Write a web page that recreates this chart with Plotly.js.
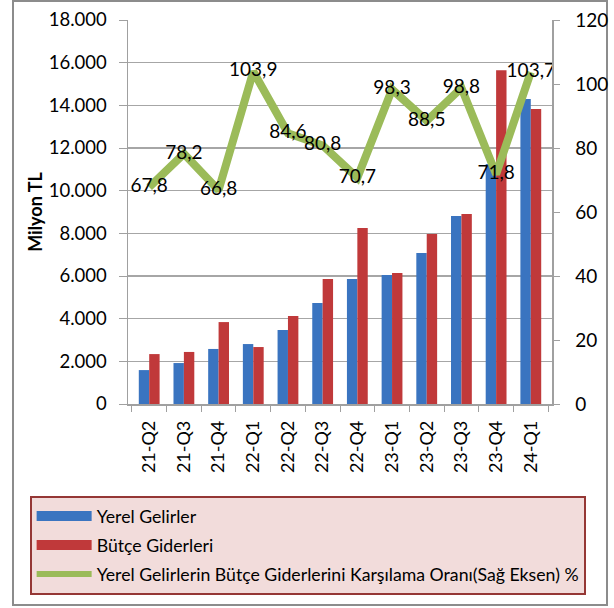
<!DOCTYPE html>
<html>
<head>
<meta charset="utf-8">
<script src="https://cdn.plot.ly/plotly-3.0.1.min.js"></script>
<style>
html,body{margin:0;padding:0;background:#fff;}
#chart{width:614px;height:608px;}
</style>
</head>
<body>
<div id="chart"></div>
<script>
var categories = ["21-Q2","21-Q3","21-Q4","22-Q1","22-Q2","22-Q3","22-Q4","23-Q1","23-Q2","23-Q3","23-Q4","24-Q1"];
var yerelGelirler = [1590, 1920, 2580, 2810, 3470, 4730, 5860, 6050, 7080, 8810, 11250, 14300];
var butceGiderleri = [2340, 2440, 3840, 2670, 4120, 5860, 8250, 6140, 7970, 8910, 15650, 13830];
var karsilamaOrani = [67.8, 78.2, 66.8, 103.9, 84.6, 80.8, 70.7, 98.3, 88.5, 98.8, 71.8, 103.7];

var names = ["Yerel Gelirler", "Bütçe Giderleri", "Yerel Gelirlerin Bütçe Giderlerini Karşılama Oranı(Sağ Eksen) %"];
var colors = ["#3a74c0", "#c0393a", "#9bbb59"];

var font = "Lato, 'Open Sans', sans-serif";

var traces = [
  {type:"bar", x:categories, y:yerelGelirler, name:names[0], marker:{color:colors[0]}, showlegend:false, hoverinfo:"skip"},
  {type:"bar", x:categories, y:butceGiderleri, name:names[1], marker:{color:colors[1]}, showlegend:false, hoverinfo:"skip"},
  {type:"scatter", mode:"lines+text", x:categories, y:karsilamaOrani, yaxis:"y2", name:names[2],
   line:{color:colors[2], width:8}, texttemplate:"%{y:.1f}", textposition:"middle center",
   textfont:{family:font, size:19, color:"#000"}, showlegend:false, hoverinfo:"skip"},
  // legend entries (no data drawn)
  {type:"scatter", mode:"lines", x:[null], y:[null], name:names[0], line:{color:colors[0], width:10}, legendgroup:"a"},
  {type:"scatter", mode:"lines", x:[null], y:[null], name:names[1], line:{color:colors[1], width:10}, legendgroup:"b"},
  {type:"scatter", mode:"lines", x:[null], y:[null], name:names[2], line:{color:colors[2], width:6}, legendgroup:"c"}
];

var axisGray = "#a0a0a0";
var layout = {
  width:614, height:608,
  margin:{l:128, r:62, t:20, b:204},
  paper_bgcolor:"#fff", plot_bgcolor:"#fff",
  separators:",.",
  font:{family:font, size:17, color:"#000"},
  barmode:"group", bargap:0.4, bargroupgap:0,
  showlegend:true,
  xaxis:{
    type:"category", tickangle:-90, ticks:"outside", tickson:"boundaries", ticklen:6,
    tickcolor:axisGray, showline:true, linecolor:axisGray, linewidth:1.5,
    showgrid:false, tickfont:{family:font, size:18}, ticklabelstandoff:8, automargin:false
  },
  yaxis:{
    range:[0,18000], dtick:2000, tickformat:",.0f", ticks:"outside", ticklen:8,
    tickcolor:axisGray, showline:true, linecolor:axisGray, linewidth:1.5,
    gridcolor:"#a6a6a6", gridwidth:1.2, zeroline:false, automargin:false,
    tickfont:{family:font, size:18.5}, ticklabelstandoff:8,
    title:{text:"<b>Milyon TL</b>", font:{family:font, size:18}, standoff:1}
  },
  yaxis2:{
    overlaying:"y", side:"right", range:[0,120], dtick:20, ticks:"outside", ticklen:6,
    tickcolor:axisGray, showline:true, linecolor:axisGray, linewidth:1.5,
    showgrid:false, zeroline:false, automargin:false, tickfont:{family:font, size:19}, ticklabelstandoff:12
  },
  legend:{
    x:-0.232, y:(404-595)/384, xanchor:"left", yanchor:"bottom",
    bgcolor:"#f2dcdb", bordercolor:"#953735", borderwidth:2,
    font:{family:font, size:17.7, color:"#000"},
    traceorder:"grouped", tracegroupgap:3, itemwidth:55
  },
  shapes:[{
    type:"rect", xref:"paper", yref:"paper",
    x0:(13-128)/424, x1:(607-128)/424, y0:(404-605)/384, y1:(404-1)/384,
    line:{color:"#8c8c8c", width:2}, fillcolor:"rgba(0,0,0,0)", layer:"below"
  }]
};

Plotly.newPlot("chart", traces, layout, {staticPlot:true, displayModeBar:false});
</script>
</body>
</html>
